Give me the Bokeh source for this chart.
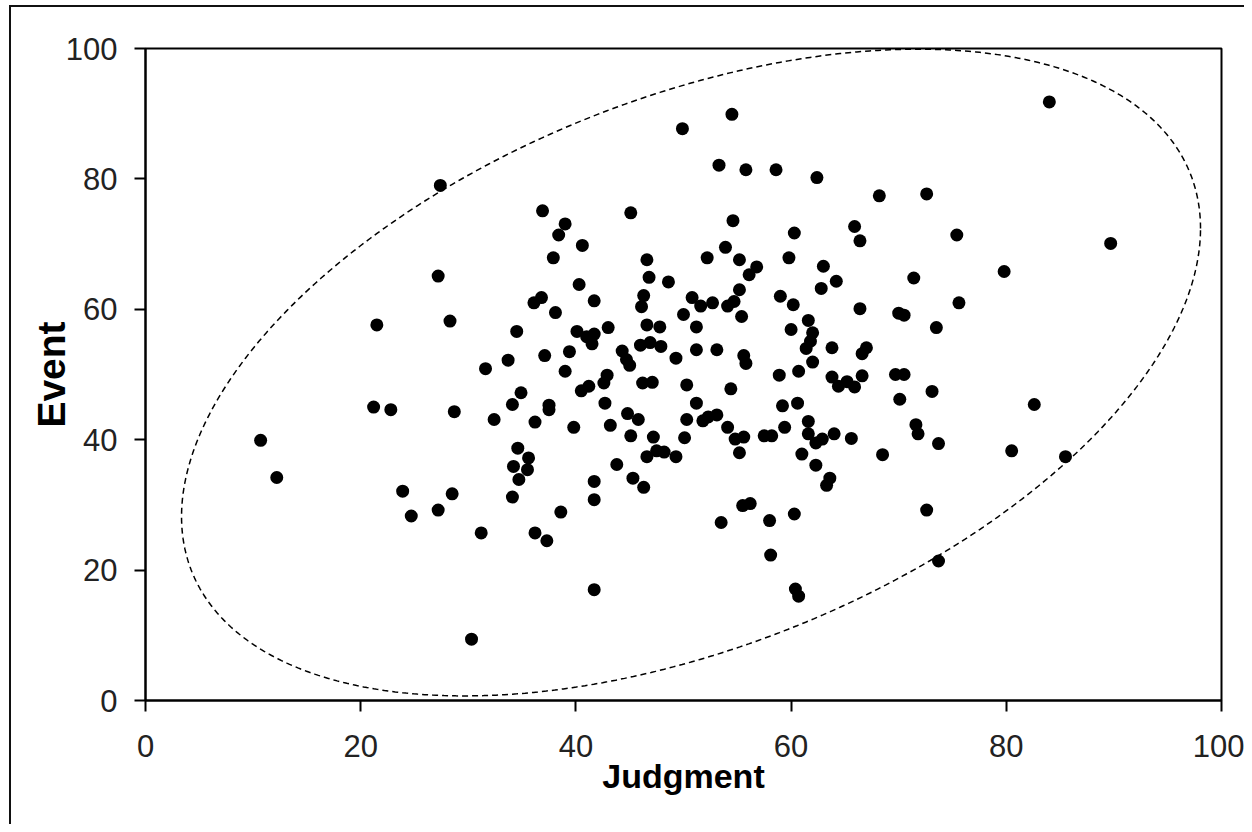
import numpy as np
from bokeh.plotting import figure
from bokeh.models import Range1d, FixedTicker, InlineStyleSheet
from bokeh.embed import file_html
from bokeh.resources import INLINE

# ---- data ----
judgment = [
    21.2, 22.8, 28.7, 32.4, 10.7, 12.2, 23.9, 28.5, 27.2, 24.7, 31.2, 30.3,
    27.4, 27.2, 21.5, 28.3, 34.5, 31.6, 33.7,
    54.5, 49.9, 53.3, 55.8, 58.6, 62.4, 36.9, 45.1, 54.6, 39.0, 38.4, 60.3, 65.9, 66.4,
    40.6, 37.9, 46.6, 53.9, 52.2, 55.2, 56.8, 56.1, 59.8, 63.0, 64.2, 62.8, 46.8, 48.6,
    40.3, 36.1, 36.8, 41.7, 46.3, 46.1, 50.8, 51.6, 52.7, 54.1, 54.7, 55.2, 59.0, 60.2,
    66.4, 38.1, 50.0, 55.4, 40.1, 41.0, 41.7, 41.5, 43.0, 46.6, 47.8, 51.2, 61.6, 62.0,
    61.8, 61.4, 60.0, 37.1, 39.4, 44.3, 44.7, 45.0, 46.0, 46.9, 47.9, 49.3, 51.2, 53.1,
    55.6, 55.8, 63.8, 67.0, 66.6, 62.0,
    39.0, 42.9, 42.6, 46.2, 47.1, 50.3, 54.4, 58.9, 60.7, 63.8, 64.4, 65.2, 65.9, 66.6,
    34.9, 34.1, 40.5, 41.2, 37.5, 37.5, 36.2, 39.8, 42.7, 43.2, 44.8, 45.8, 45.1, 47.2,
    46.6, 47.5, 48.2, 49.3, 50.3, 50.1, 51.2, 51.8, 52.3, 53.1, 54.1, 54.8, 55.6, 55.2,
    57.5, 58.2, 59.4, 59.2, 60.6, 61.6, 61.6, 62.3, 62.9, 64.0, 65.6, 61.0, 62.3, 63.6,
    63.3, 34.6, 35.6, 34.2, 35.5, 34.7, 34.1, 43.8, 41.7, 41.7, 45.3, 46.3, 38.6, 36.2,
    37.3, 41.7, 55.5, 56.2, 53.5, 58.0, 60.3, 58.1, 60.4, 60.7,
    84.0, 68.2, 72.6, 75.4, 89.7, 79.8, 71.4, 70.0, 70.5, 75.6, 73.5, 69.7, 70.5,
    73.1, 70.1, 82.6, 71.6, 71.8, 73.7, 68.5, 80.5, 85.5, 72.6, 73.7,
]
event = [
    45.0, 44.6, 44.3, 43.1, 39.9, 34.2, 32.1, 31.7, 29.2, 28.3, 25.7, 9.4,
    79.0, 65.1, 57.6, 58.2, 56.6, 50.9, 52.2,
    89.9, 87.7, 82.1, 81.4, 81.4, 80.2, 75.1, 74.8, 73.6, 73.1, 71.4, 71.7, 72.7, 70.5,
    69.8, 67.9, 67.6, 69.5, 67.9, 67.6, 66.5, 65.3, 67.9, 66.6, 64.3, 63.2, 64.9, 64.2,
    63.8, 61.0, 61.8, 61.3, 62.1, 60.4, 61.8, 60.5, 61.0, 60.5, 61.2, 63.0, 62.0, 60.7,
    60.1, 59.5, 59.2, 58.9, 56.6, 55.8, 56.2, 54.7, 57.2, 57.6, 57.3, 57.3, 58.3, 56.4,
    55.1, 54.0, 56.9, 52.9, 53.5, 53.6, 52.3, 51.4, 54.5, 54.9, 54.3, 52.5, 53.8, 53.8,
    52.9, 51.7, 54.1, 54.1, 53.2, 51.9,
    50.5, 49.9, 48.7, 48.7, 48.8, 48.4, 47.8, 49.9, 50.5, 49.6, 48.2, 48.9, 48.1, 49.8,
    47.2, 45.4, 47.5, 48.2, 45.3, 44.6, 42.7, 41.9, 45.6, 42.2, 44.0, 43.1, 40.6, 40.4,
    37.4, 38.3, 38.1, 37.4, 43.1, 40.3, 45.6, 42.9, 43.5, 43.8, 41.9, 40.1, 40.4, 38.0,
    40.6, 40.6, 41.9, 45.2, 45.6, 42.8, 40.9, 39.5, 40.1, 40.9, 40.2, 37.8, 36.1, 34.1,
    33.0, 38.7, 37.2, 35.9, 35.4, 33.9, 31.2, 36.2, 33.6, 30.8, 34.1, 32.7, 28.9, 25.7,
    24.5, 17.0, 29.9, 30.2, 27.3, 27.6, 28.6, 22.3, 17.1, 16.0,
    91.8, 77.4, 77.7, 71.4, 70.1, 65.8, 64.8, 59.4, 59.1, 61.0, 57.2, 50.0, 50.0,
    47.4, 46.2, 45.4, 42.3, 40.9, 39.4, 37.7, 38.3, 37.4, 29.2, 21.4,
]
ticks = [0, 20, 40, 60, 80, 100]
x_label = "Judgment"
y_label = "Event"

# dashed ellipse (in data units): centre and shape parameters
ell_cx, ell_cy = 50.7, 50.3
ell_a = 47.35      # half-width in x
ell_c = 22.1       # y offset at the x-extremes
ell_d = 44.4       # remaining y half-extent

FONT = "Liberation Sans"

p = figure(width=1244, height=824,
           x_range=Range1d(0, 100), y_range=Range1d(0, 100),
           output_backend="svg", toolbar_location=None,
           min_border_left=145, min_border_right=23,
           min_border_top=48, min_border_bottom=124)
p.stylesheets = [InlineStyleSheet(css="""
:host::after {
  content: "";
  position: absolute;
  left: 9px; top: 5px; right: 0; bottom: 0;
  border-left: 2px solid #111;
  border-top: 2px solid #111;
  pointer-events: none;
}
""")]
p.background_fill_color = "white"
p.border_fill_color = "white"
p.xgrid.visible = False
p.ygrid.visible = False
p.outline_line_color = "black"
p.outline_line_width = 2
p.outline_line_alpha = 1.0

for ax in (p.xaxis[0], p.yaxis[0]):
    ax.ticker = FixedTicker(ticks=ticks)
    ax.minor_tick_line_color = None
    ax.major_tick_in = 0
    ax.major_tick_out = 11
    ax.major_tick_line_color = "black"
    ax.major_tick_line_width = 2
    ax.axis_line_color = "black"
    ax.axis_line_width = 2
    ax.major_label_text_font = FONT
    ax.major_label_text_font_size = "31px"
    ax.major_label_text_color = "#222222"
    ax.axis_label_text_font = FONT
    ax.axis_label_text_font_style = "bold"
    ax.axis_label_text_color = "black"

p.xaxis[0].axis_label = x_label
p.xaxis[0].major_label_standoff = 23
p.xaxis[0].axis_label_text_font_size = "34px"
p.xaxis[0].axis_label_standoff = -3

p.yaxis[0].axis_label = y_label
p.yaxis[0].major_label_standoff = 17
p.yaxis[0].axis_label_text_font_size = "39px"
p.yaxis[0].axis_label_standoff = -10

t = np.linspace(0, 2 * np.pi, 721)
ex = ell_cx + ell_a * np.cos(t)
ey = ell_cy + ell_c * np.cos(t) + ell_d * np.sin(t)
p.line(ex, ey, line_color="black", line_width=1.5, line_dash="6 4")

p.scatter(judgment, event, size=13, fill_color="black", line_color=None)

open("out.html", "w").write(file_html(p, INLINE, "chart"))
